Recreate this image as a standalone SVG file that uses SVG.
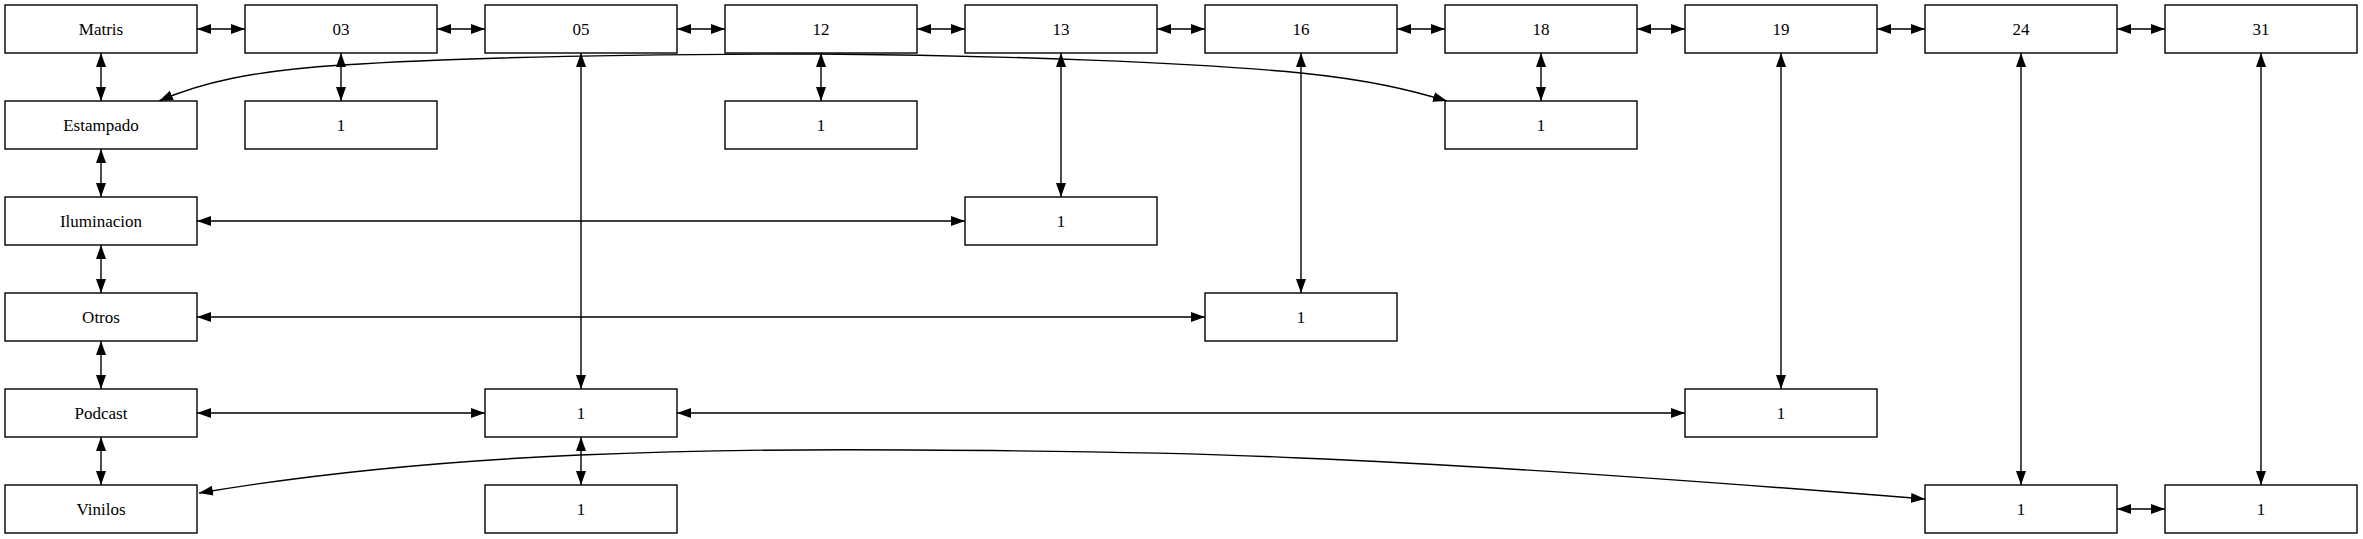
<svg xmlns="http://www.w3.org/2000/svg" width="2363" height="539" viewBox="0 0 2363 539">
<style>
.node rect{fill:#fff;stroke:#000;stroke-width:1.4}
.node text{font-family:"Liberation Serif","Times New Roman",serif;font-size:17px;fill:#000;text-anchor:middle}
.edges path{fill:none;stroke:#000;stroke-width:1.4;marker-start:url(#ah);marker-end:url(#ah)}
</style>
<defs>
<marker id="ah" markerUnits="userSpaceOnUse" markerWidth="14" markerHeight="10" refX="14" refY="5" orient="auto-start-reverse" viewBox="0 0 14 10">
<path d="M0,0 L14,5 L0,10 z" fill="#000"/>
</marker>
</defs>
<rect width="2363" height="539" fill="#fff"/>
<g class="edges" id="edges">
<!-- row 0 horizontals -->
<path d="M197,29 H245"/>
<path d="M437,29 H485"/>
<path d="M677,29 H725"/>
<path d="M917,29 H965"/>
<path d="M1157,29 H1205"/>
<path d="M1397,29 H1445"/>
<path d="M1637,29 H1685"/>
<path d="M1877,29 H1925"/>
<path d="M2117,29 H2165"/>
<!-- column 0 verticals -->
<path d="M101,53 V101"/>
<path d="M101,149 V197"/>
<path d="M101,245 V293"/>
<path d="M101,341 V389"/>
<path d="M101,437 V485"/>
<!-- other verticals -->
<path d="M341,53 V101"/>
<path d="M821,53 V101"/>
<path d="M1541,53 V101"/>
<path d="M1061,53 V197"/>
<path d="M1301,53 V293"/>
<path d="M581,53 V389"/>
<path d="M581,437 V485"/>
<path d="M1781,53 V389"/>
<path d="M2021,53 V485"/>
<path d="M2261,53 V485"/>
<!-- long horizontals -->
<path d="M197,221 H965"/>
<path d="M197,317 H1205"/>
<path d="M197,413 H485"/>
<path d="M677,413 H1685"/>
<path d="M2117,509 H2165"/>
<!-- curves -->
<path d="M159,101 C200,83 250,71 342,65 C450,58 600,54 821,54 C1000,55 1200,63 1301,73 C1370,80 1410,90 1447,101"/>
<path d="M199,493 C300,476 420,462 580,455 C700,450 800,449 912,450 C1100,451 1200,453 1300,458 C1450,464 1700,481 1925,499"/>
</g>
<g class="node" id="Matris"><rect x="5" y="5" width="192" height="48"/><text x="101" y="34.5">Matris</text></g>
<g class="node" id="n03"><rect x="245" y="5" width="192" height="48"/><text x="341" y="34.5">03</text></g>
<g class="node" id="n05"><rect x="485" y="5" width="192" height="48"/><text x="581" y="34.5">05</text></g>
<g class="node" id="n12"><rect x="725" y="5" width="192" height="48"/><text x="821" y="34.5">12</text></g>
<g class="node" id="n13"><rect x="965" y="5" width="192" height="48"/><text x="1061" y="34.5">13</text></g>
<g class="node" id="n16"><rect x="1205" y="5" width="192" height="48"/><text x="1301" y="34.5">16</text></g>
<g class="node" id="n18"><rect x="1445" y="5" width="192" height="48"/><text x="1541" y="34.5">18</text></g>
<g class="node" id="n19"><rect x="1685" y="5" width="192" height="48"/><text x="1781" y="34.5">19</text></g>
<g class="node" id="n24"><rect x="1925" y="5" width="192" height="48"/><text x="2021" y="34.5">24</text></g>
<g class="node" id="n31"><rect x="2165" y="5" width="192" height="48"/><text x="2261" y="34.5">31</text></g>
<g class="node" id="Estampado"><rect x="5" y="101" width="192" height="48"/><text x="101" y="130.5">Estampado</text></g>
<g class="node" id="Iluminacion"><rect x="5" y="197" width="192" height="48"/><text x="101" y="226.5">Iluminacion</text></g>
<g class="node" id="Otros"><rect x="5" y="293" width="192" height="48"/><text x="101" y="322.5">Otros</text></g>
<g class="node" id="Podcast"><rect x="5" y="389" width="192" height="48"/><text x="101" y="418.5">Podcast</text></g>
<g class="node" id="Vinilos"><rect x="5" y="485" width="192" height="48"/><text x="101" y="514.5">Vinilos</text></g>
<g class="node" id="v03_1"><rect x="245" y="101" width="192" height="48"/><text x="341" y="130.5">1</text></g>
<g class="node" id="v12_1"><rect x="725" y="101" width="192" height="48"/><text x="821" y="130.5">1</text></g>
<g class="node" id="v18_1"><rect x="1445" y="101" width="192" height="48"/><text x="1541" y="130.5">1</text></g>
<g class="node" id="v13_1"><rect x="965" y="197" width="192" height="48"/><text x="1061" y="226.5">1</text></g>
<g class="node" id="v16_1"><rect x="1205" y="293" width="192" height="48"/><text x="1301" y="322.5">1</text></g>
<g class="node" id="v05_1"><rect x="485" y="389" width="192" height="48"/><text x="581" y="418.5">1</text></g>
<g class="node" id="v19_1"><rect x="1685" y="389" width="192" height="48"/><text x="1781" y="418.5">1</text></g>
<g class="node" id="v05_2"><rect x="485" y="485" width="192" height="48"/><text x="581" y="514.5">1</text></g>
<g class="node" id="v24_1"><rect x="1925" y="485" width="192" height="48"/><text x="2021" y="514.5">1</text></g>
<g class="node" id="v31_1"><rect x="2165" y="485" width="192" height="48"/><text x="2261" y="514.5">1</text></g>
</svg>
